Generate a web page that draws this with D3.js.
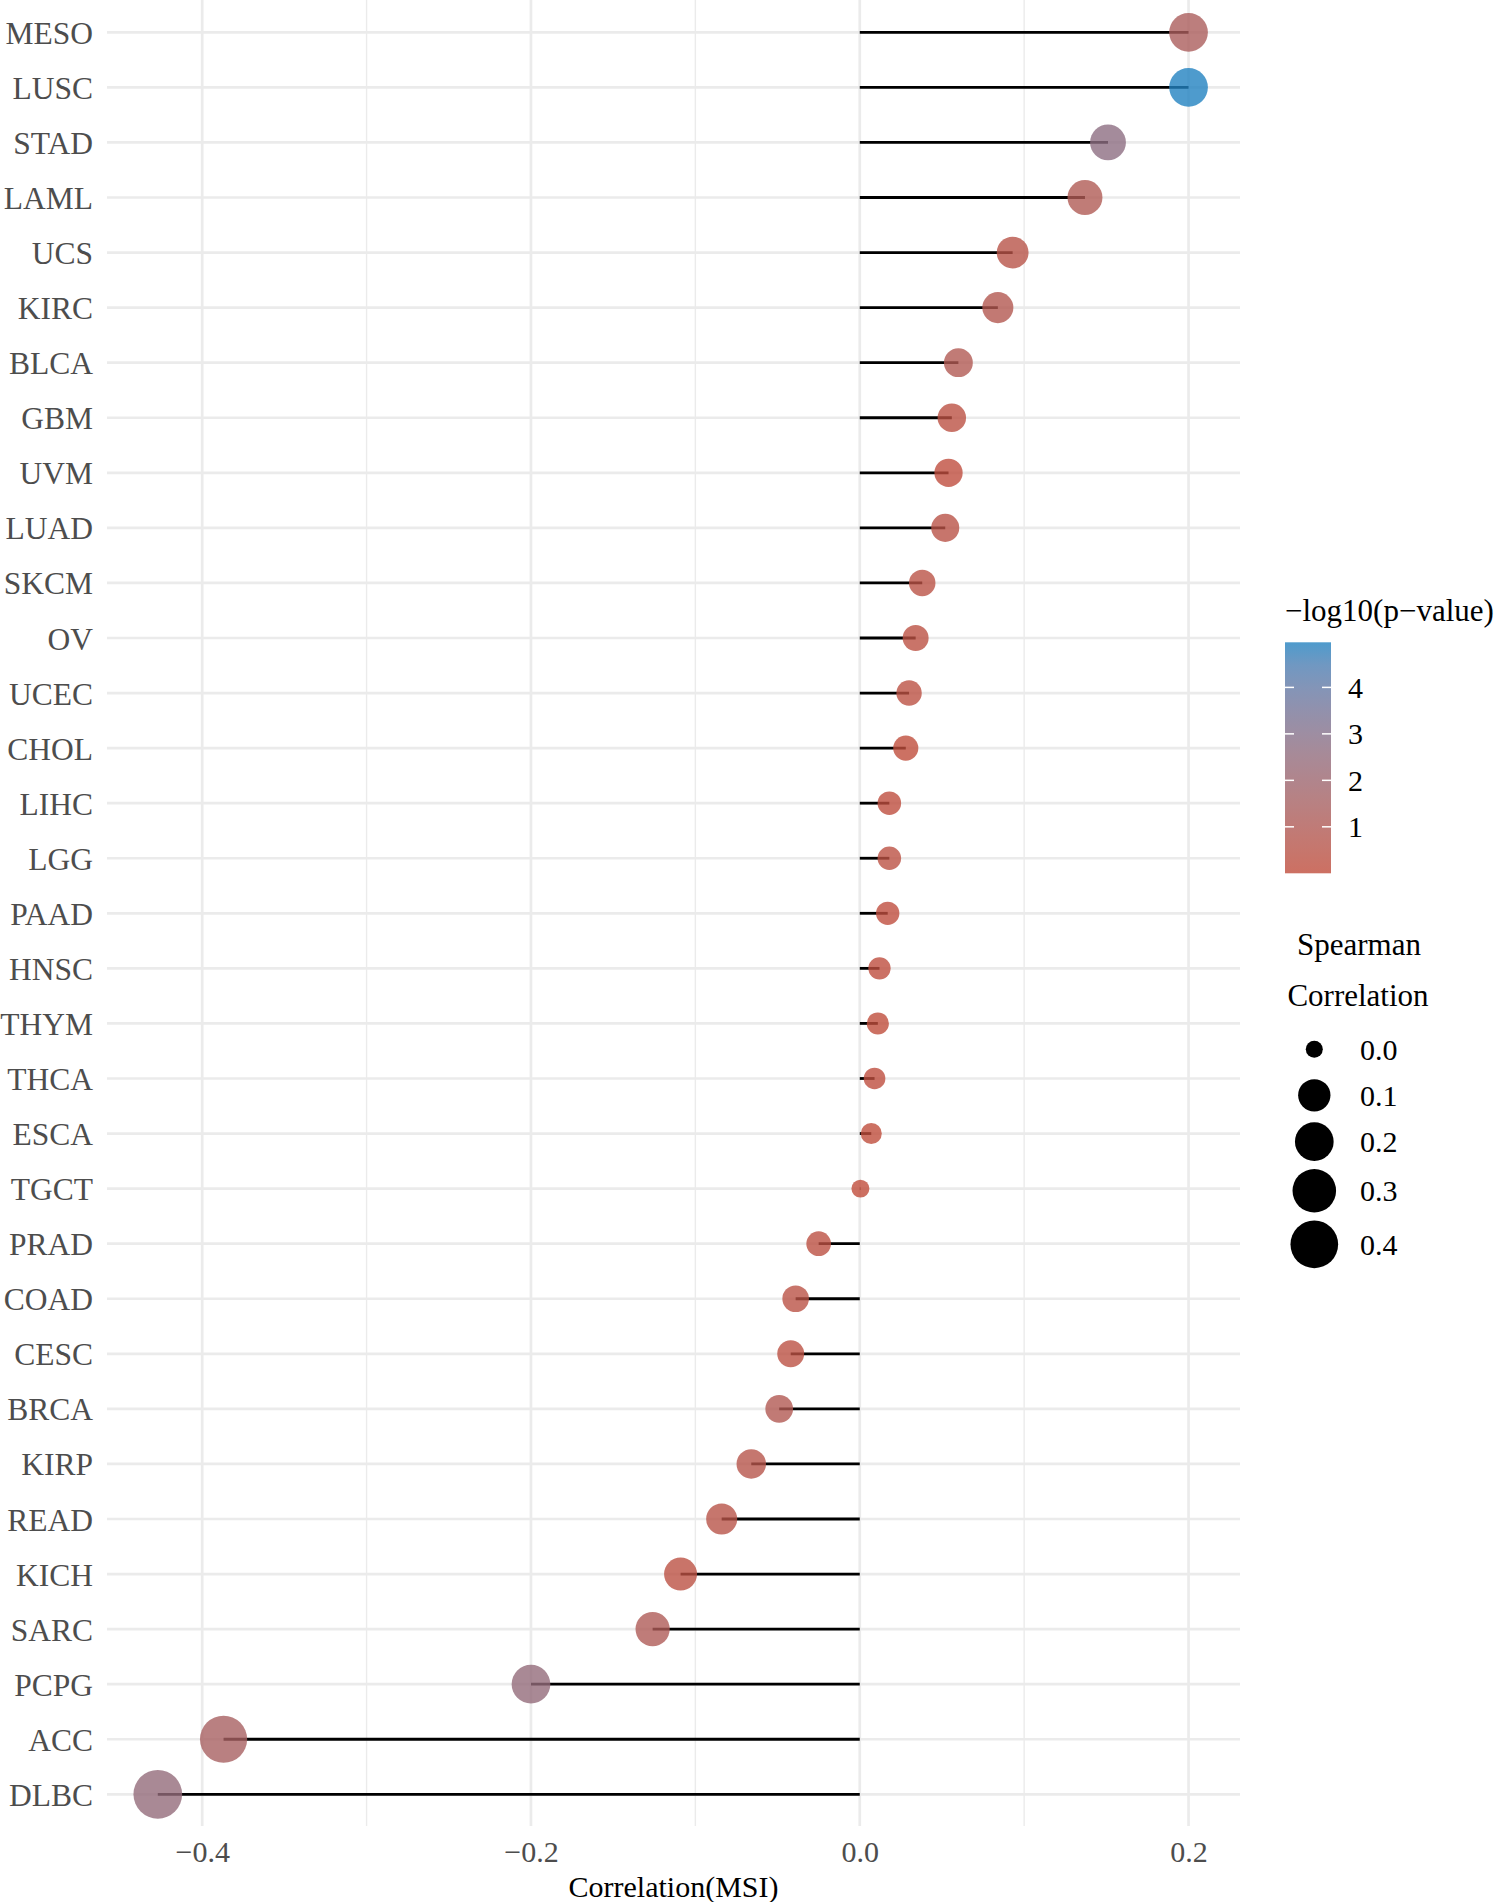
<!DOCTYPE html>
<html>
<head>
<meta charset="utf-8">
<script src="https://cdn.jsdelivr.net/npm/d3@7"></script>
<style>
  body { margin: 0; background: #fff; }
  text { font-family: "Liberation Serif", "Times New Roman", serif; }
</style>
</head>
<body>
<div id="chart"></div>
<script>
// cancer types, top to bottom
const cancers = ['MESO', 'LUSC', 'STAD', 'LAML', 'UCS', 'KIRC', 'BLCA', 'GBM', 'UVM', 'LUAD',
  'SKCM', 'OV', 'UCEC', 'CHOL', 'LIHC', 'LGG', 'PAAD', 'HNSC', 'THYM', 'THCA', 'ESCA',
  'TGCT', 'PRAD', 'COAD', 'CESC', 'BRCA', 'KIRP', 'READ', 'KICH', 'SARC', 'PCPG', 'ACC', 'DLBC'];
// spearman correlation with MSI
const correlation = [0.200, 0.200, 0.151, 0.137, 0.093, 0.084, 0.060, 0.056, 0.054, 0.052,
  0.038, 0.034, 0.030, 0.028, 0.018, 0.018, 0.017, 0.012, 0.011, 0.009, 0.007,
  0.0004, -0.025, -0.039, -0.042, -0.049, -0.066, -0.084, -0.109, -0.126, -0.200, -0.387, -0.427];
// -log10(p-value)
const logP = [1.3, 4.97, 2.7, 1.0, 0.5, 0.8, 0.95, 0.3, 0.1, 0.45,
  0.4, 0.3, 0.3, 0.05, 0.15, 0.3, 0.1, 0.15, 0.05, 0.15, 0.05,
  0.0, 0.25, 0.4, 0.35, 0.9, 0.6, 0.5, 0.3, 1.05, 2.4, 1.45, 2.4];
const xTicks = [-0.4, -0.2, 0.0, 0.2];
const xMinor = [-0.3, -0.1, 0.1];
const colorTicks = [1, 2, 3, 4];
const sizeBreaks = [0.0, 0.1, 0.2, 0.3, 0.4];

const width = 1499;
const height = 1902;
const panel = { left: 107, right: 1240, top: 0, bottom: 1826 };

const data = cancers.map((c, i) => ({ name: c, r: correlation[i], p: logP[i] }));

const svg = d3.select('#chart').append('svg')
  .attr('width', width)
  .attr('height', height)
  .style('background-color', '#ffffff');

const x = d3.scaleLinear().domain([-0.4579, 0.2313]).range([panel.left, panel.right]);
const y = d3.scalePoint().domain(cancers).range([32.3, 1794.3]);
const size = d3.scaleSqrt().domain([0, 0.425]).range([8.5, 24.3]);
const color = d3.scaleLinear().domain([0, 4.97])
  .range(['#c04c3b', '#2282c0'])
  .interpolate(d3.interpolateLab);

// grid
const grid = svg.append('g');
grid.selectAll('.minor').data(xMinor).enter().append('line')
  .attr('x1', d => x(d)).attr('x2', d => x(d))
  .attr('y1', panel.top).attr('y2', panel.bottom)
  .attr('stroke', '#ebebeb').attr('stroke-width', 1.4);
grid.selectAll('.major').data(xTicks).enter().append('line')
  .attr('x1', d => x(d)).attr('x2', d => x(d))
  .attr('y1', panel.top).attr('y2', panel.bottom)
  .attr('stroke', '#ebebeb').attr('stroke-width', 2.7);
grid.selectAll('.hline').data(cancers).enter().append('line')
  .attr('x1', panel.left).attr('x2', panel.right)
  .attr('y1', d => y(d)).attr('y2', d => y(d))
  .attr('stroke', '#ebebeb').attr('stroke-width', 2.7);

// axes
const yAxis = svg.append('g')
  .attr('transform', `translate(${panel.left - 14},0)`)
  .call(d3.axisLeft(y).tickSize(0).tickPadding(0));
yAxis.select('.domain').remove();
yAxis.selectAll('text')
  .attr('font-family', '"Liberation Serif", serif')
  .attr('font-size', 31.5)
  .attr('fill', '#4d4d4d')
  .attr('dy', '0.35em');

const xAxis = svg.append('g')
  .attr('transform', `translate(0,${panel.bottom})`)
  .call(d3.axisBottom(x).tickValues(xTicks).tickSize(0).tickPadding(0)
    .tickFormat(d => d3.format('.1f')(d).replace('-', '\u2212')));
xAxis.select('.domain').remove();
xAxis.selectAll('text')
  .attr('font-family', '"Liberation Serif", serif')
  .attr('font-size', 30)
  .attr('fill', '#4d4d4d')
  .attr('dy', null)
  .attr('y', 36);

svg.append('text')
  .attr('x', (panel.left + panel.right) / 2)
  .attr('y', 1897)
  .attr('text-anchor', 'middle')
  .attr('font-size', 30)
  .attr('fill', '#000')
  .text('Correlation(MSI)');

// lollipops
svg.append('g').selectAll('line').data(data).enter().append('line')
  .attr('x1', x(0)).attr('x2', d => x(d.r))
  .attr('y1', d => y(d.name)).attr('y2', d => y(d.name))
  .attr('stroke', '#000').attr('stroke-width', 2.8);

svg.append('g').selectAll('circle').data(data).enter().append('circle')
  .attr('cx', d => x(d.r))
  .attr('cy', d => y(d.name))
  .attr('r', d => size(Math.abs(d.r)))
  .attr('fill', d => color(d.p))
  .attr('fill-opacity', 0.8);

// colour legend
const bar = { x: 1285, w: 46, top: 642.3, bottom: 873.3 };
const cy = d3.scaleLinear().domain(color.domain()).range([bar.bottom, bar.top]);
const grad = svg.append('defs').append('linearGradient')
  .attr('id', 'pgrad').attr('x1', 0).attr('y1', 1).attr('x2', 0).attr('y2', 0);
d3.range(0, 1.0001, 0.1).forEach(t => {
  grad.append('stop').attr('offset', t)
    .attr('stop-color', color(t * color.domain()[1]));
});
svg.append('text')
  .attr('x', 1285).attr('y', 621)
  .attr('font-size', 31)
  .text('\u2212log10(p\u2212value)');
svg.append('rect')
  .attr('x', bar.x).attr('y', bar.top)
  .attr('width', bar.w).attr('height', bar.bottom - bar.top)
  .attr('fill', 'url(#pgrad)').attr('fill-opacity', 0.8);
const ct = svg.append('g');
ct.selectAll('.tl').data(colorTicks).enter().append('line')
  .attr('x1', bar.x).attr('x2', bar.x + 9)
  .attr('y1', d => cy(d)).attr('y2', d => cy(d))
  .attr('stroke', '#fff').attr('stroke-width', 1.5);
ct.selectAll('.tr').data(colorTicks).enter().append('line')
  .attr('x1', bar.x + bar.w - 9).attr('x2', bar.x + bar.w)
  .attr('y1', d => cy(d)).attr('y2', d => cy(d))
  .attr('stroke', '#fff').attr('stroke-width', 1.5);
ct.selectAll('text').data(colorTicks).enter().append('text')
  .attr('x', 1348).attr('y', d => cy(d))
  .attr('dy', '0.35em')
  .attr('font-size', 30)
  .attr('fill', '#000')
  .text(d => d);

// size legend
svg.append('text')
  .attr('x', 1359).attr('y', 955)
  .attr('text-anchor', 'middle')
  .attr('font-size', 31)
  .text('Spearman');
svg.append('text')
  .attr('x', 1358).attr('y', 1006)
  .attr('text-anchor', 'middle')
  .attr('font-size', 31)
  .text('Correlation');

let pos = 1049.3;
const keys = sizeBreaks.map((b, i) => {
  const h = Math.max(46, 2 * size(b) + 8);
  if (i > 0) pos += (h + Math.max(46, 2 * size(sizeBreaks[i - 1]) + 8)) / 2;
  return { b: b, y: pos };
});
const sl = svg.append('g');
sl.selectAll('circle').data(keys).enter().append('circle')
  .attr('cx', 1314.3).attr('cy', d => d.y)
  .attr('r', d => size(d.b))
  .attr('fill', '#000');
sl.selectAll('text').data(keys).enter().append('text')
  .attr('x', 1360).attr('y', d => d.y)
  .attr('dy', '0.35em')
  .attr('font-size', 30)
  .text(d => d3.format('.1f')(d.b));
</script>
</body>
</html>
